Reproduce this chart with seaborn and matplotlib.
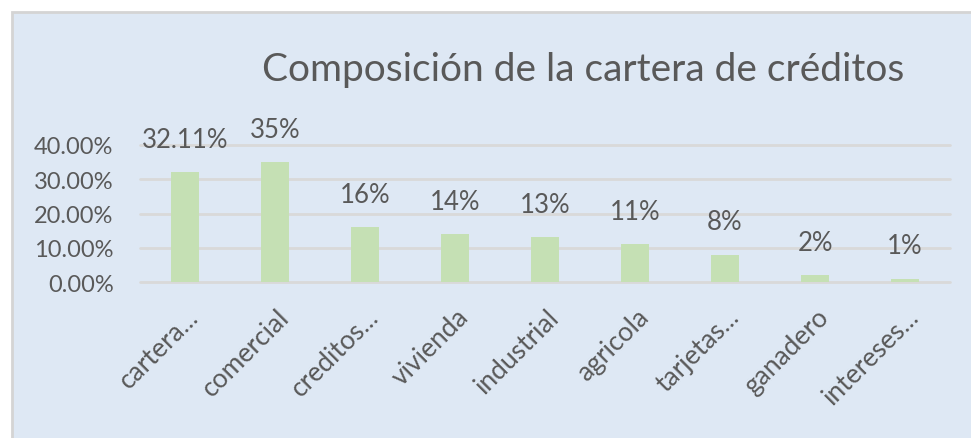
import matplotlib
matplotlib.use("Agg")
import matplotlib.pyplot as plt
from matplotlib.patches import Rectangle
from matplotlib.transforms import ScaledTranslation
import seaborn as sns
import pandas as pd

categories = ["cartera...", "comercial", "creditos...", "vivienda", "industrial",
              "agricola", "tarjetas...", "ganadero", "intereses..."]
values = [0.3211, 0.35, 0.16, 0.14, 0.13, 0.11, 0.08, 0.02, 0.01]
value_labels = ["32.11%", "35%", "16%", "14%", "13%", "11%", "8%", "2%", "1%"]
y_ticks = [0.0, 0.1, 0.2, 0.3, 0.4]
y_tick_labels = ["0.00%", "10.00%", "20.00%", "30.00%", "40.00%"]
title = "Composición de la cartera de créditos"

sns.set_theme(style="white")
plt.rcParams['font.family'] = ['Lato', 'DejaVu Sans']

W, H = 971, 439
fig = plt.figure(figsize=(W / 100, H / 100), dpi=100, facecolor="white")

bg = "#dee8f4"
txt = "#595959"
grid_c = "#d9d9d9"
bar_c = "#c5e0b4"

# chart area background with border
fig.patches.append(Rectangle((12 / W, -0.01), 1.0, (H - 13) / H + 0.01,
                             transform=fig.transFigure, facecolor=bg,
                             edgecolor="#d4d4d4", linewidth=2, zorder=-5))

ax = fig.add_axes([140 / W, (H - 283) / H, (950 - 140) / W, (283 - 146) / H])
ax.set_zorder(2)
ax.set_facecolor("none")

df = pd.DataFrame({"cat": categories, "val": values})
sns.barplot(data=df, x="cat", y="val", color=bar_c, width=0.32, ax=ax,
            saturation=1, zorder=3, linewidth=0, edgecolor=bar_c)

ax.set_xlim(-0.5, len(categories) - 0.5)
ax.set_ylim(0, 0.4)
ax.set_yticks(y_ticks)
ax.set_yticklabels(y_tick_labels, fontsize=17, color=txt)
for y in y_ticks:
    ax.axhline(y, color=grid_c, linewidth=2, zorder=1, clip_on=False)
for s in ax.spines.values():
    s.set_visible(False)
ax.tick_params(axis="y", length=0, pad=19)
ax.tick_params(axis="x", length=0, pad=22)
ax.set_xlabel("")
ax.set_ylabel("")
ax.set_xticks(range(len(categories)))
ax.set_xticklabels(categories, rotation=45, ha="right", va="center",
                   rotation_mode="anchor", fontsize=19, color=txt)
shift = ScaledTranslation(10 / 100, 0, fig.dpi_scale_trans)
for lbl in ax.get_xticklabels():
    lbl.set_transform(lbl.get_transform() + shift)

for i, (v, lab) in enumerate(zip(values, value_labels)):
    ax.annotate(lab, (i, v), xytext=(0, 33), textcoords="offset pixels",
                ha="center", va="center", fontsize=18.5, color=txt,
                annotation_clip=False)

fig.text(583.5 / W, (H - 70) / H, title, ha="center", va="center",
         fontsize=28, color=txt, zorder=3)

fig.savefig("out.png", dpi=100, facecolor="white")
